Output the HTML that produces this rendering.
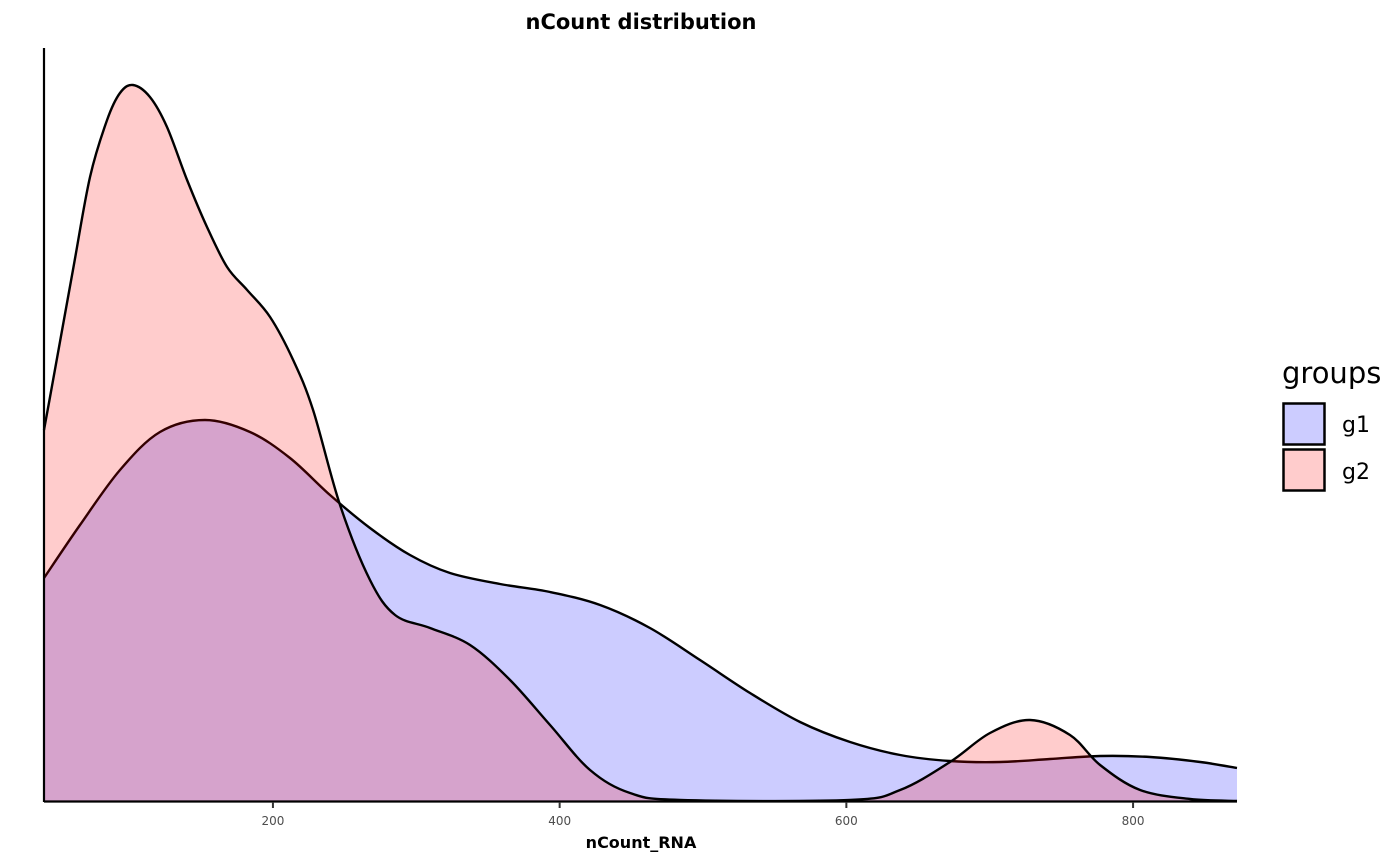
<!DOCTYPE html>
<html><head><meta charset="utf-8"><style>
html,body{margin:0;padding:0;background:#fff;}
svg{display:block;font-family:"DejaVu Sans","Liberation Sans",sans-serif;}
</style></head><body>
<svg id="chart" width="1400" height="866" xmlns="http://www.w3.org/2000/svg">
<text x="641" y="29" text-anchor="middle" font-size="21" font-weight="bold">nCount distribution</text>
<g id="plot"></g>
<line x1="44" y1="48" x2="44" y2="802" stroke="#000" stroke-width="2.2"/>
<line x1="44" y1="801.5" x2="1237" y2="801.5" stroke="#000" stroke-width="2.2"/>
<g id="xticks"></g>
<text x="641" y="848" text-anchor="middle" font-size="16" font-weight="bold">nCount_RNA</text>
<g>
<text x="1282" y="383" font-size="29">groups</text>
<rect x="1283.5" y="403.5" width="41" height="41" fill="#ccccff" stroke="#000" stroke-width="2.5"/>
<text x="1342" y="432" font-size="22">g1</text>
<rect x="1283.5" y="449.5" width="41" height="41" fill="#ffcccc" stroke="#000" stroke-width="2.5"/>
<text x="1342" y="479" font-size="22">g2</text>
</g>
</svg>
<script>
const g1X=[40.3,65.4,93.3,121.2,152.6,184,211.9,239.8,267.7,295.6,323.5,358.4,393.3,428.2,463,497.9,532.8,567.7,602.6,637.5,672.3,707.2,742.1,777,811.9,846.8,872.5];
const g1Y=[223,276,331,369,381,369,343,306,273,246,228,217,209,196,173,141,108,79,59,46,40,39,42,45,44,39,33];
const g2X=[40.3,44.5,60.5,72.4,84.3,93.3,102.4,114.2,126.1,140.1,154,168,182,198,214.1,228,246.8,267.7,285.2,309.6,337.5,365.4,393.3,421.2,449.1,484,602.6,637.5,672.3,700.2,728.1,756,777,804.9,839.7,872.5];
const g2Y=[371,404,531,624,681,708,716,704,674,621,574,534,511,484,441,391,296,221,186,173,156,121,76,31,8,1,1,11,39,68,81,66,36,11,2,0];
const xTicks=[200,400,600,800];
const xMin=40.3,xMax=872.5,yMax=753;
function sx(v){return 44+(v-xMin)/(xMax-xMin)*(1237-44);}
function sy(v){return 801-v/yMax*(801-48);}
function pathFor(xs,ys){
  const p=xs.map((x,i)=>[sx(x),sy(ys[i])]);
  let d='M'+p[0][0]+','+p[0][1];
  for(let i=0;i<p.length-1;i++){
    const p0=p[Math.max(0,i-1)],p1=p[i],p2=p[i+1],p3=p[Math.min(p.length-1,i+2)];
    const c1=[p1[0]+(p2[0]-p0[0])/6,p1[1]+(p2[1]-p0[1])/6];
    const c2=[p2[0]-(p3[0]-p1[0])/6,p2[1]-(p3[1]-p1[1])/6];
    d+=' C'+c1+' '+c2+' '+p2;
  }
  return d;
}
const NS='http://www.w3.org/2000/svg';
const plot=document.getElementById('plot');
function draw(xs,ys,color,name){
  const line=pathFor(xs,ys);
  const area=document.createElementNS(NS,'path');
  area.setAttribute('d',line+' L'+sx(xs[xs.length-1])+',801 L'+sx(xs[0])+',801 Z');
  area.setAttribute('fill',color);area.setAttribute('fill-opacity','0.2');
  
  
  plot.appendChild(area);
  const l=document.createElementNS(NS,'path');
  l.setAttribute('d',line);l.setAttribute('fill','none');l.setAttribute('stroke','#000');l.setAttribute('stroke-width','2.4');
  
  
  plot.appendChild(l);
}
draw(g1X,g1Y,'#0000ff','density-g1');
draw(g2X,g2Y,'#ff0000','density-g2');
const xt=document.getElementById('xticks');
xTicks.forEach(v=>{
  const t=document.createElementNS(NS,'line');
  t.setAttribute('x1',sx(v));t.setAttribute('x2',sx(v));t.setAttribute('y1',802);t.setAttribute('y2',808);
  t.setAttribute('stroke','#333');t.setAttribute('stroke-width','2');
  
  
  xt.appendChild(t);
  const s=document.createElementNS(NS,'text');
  s.setAttribute('x',sx(v));s.setAttribute('y',825);s.setAttribute('text-anchor','middle');
  s.setAttribute('font-size','12');s.setAttribute('fill','#4d4d4d');
  s.textContent=v;
  
  
  xt.appendChild(s);
});
</script>
</body></html>
